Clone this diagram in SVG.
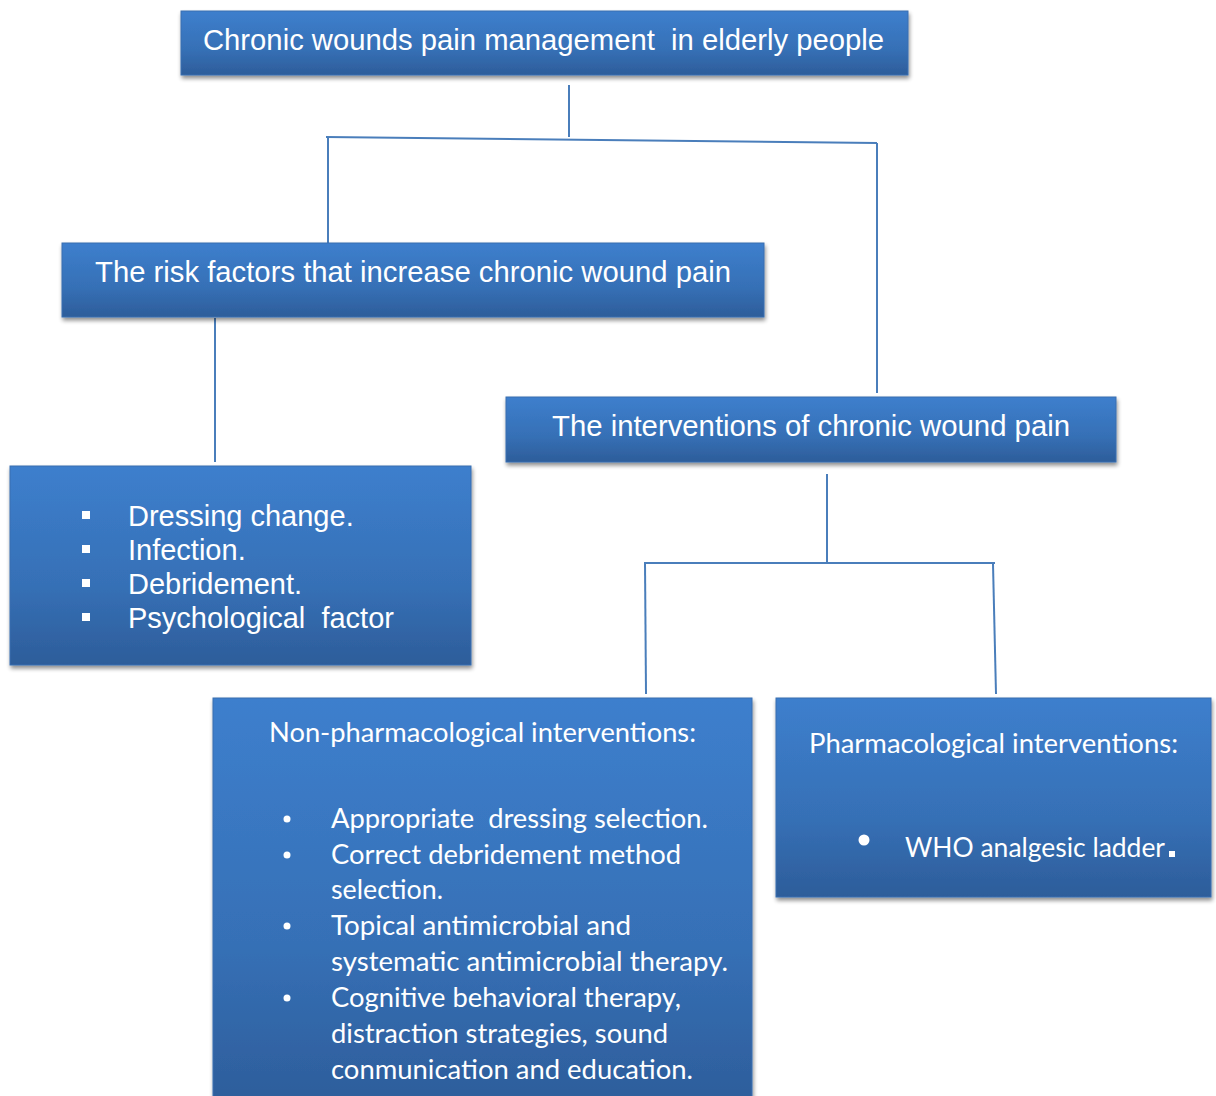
<svg xmlns="http://www.w3.org/2000/svg" width="1216" height="1096" viewBox="0 0 1216 1096">
<defs>
<linearGradient id="g" x1="0" y1="0" x2="0" y2="1">
<stop offset="0" stop-color="#3d7fcd"/>
<stop offset="0.6" stop-color="#3670b6"/>
<stop offset="1" stop-color="#2d5d9a"/>
</linearGradient>
<filter id="sh" x="-5%" y="-10%" width="110%" height="130%">
<feGaussianBlur in="SourceAlpha" stdDeviation="2"/>
<feOffset dx="1" dy="3" result="b"/>
<feComponentTransfer><feFuncA type="linear" slope="0.45"/></feComponentTransfer>
<feMerge><feMergeNode/><feMergeNode in="SourceGraphic"/></feMerge>
</filter>
</defs>
<style>
.box{fill:url(#g);stroke:#3a6fb0;stroke-width:1;filter:url(#sh)}
.ar{font-family:"Liberation Sans",Arial,sans-serif;fill:#fff}
.cal{font-family:Lato,"Open Sans",sans-serif;fill:#fff;font-size:26px}
.con{stroke:#4a7ebb;stroke-width:2;fill:none}
</style>
<rect width="1216" height="1096" fill="#fff"/>
<g id="connectors">
<line class="con" x1="569" y1="85" x2="569" y2="137"/>
<line class="con" x1="326" y1="137" x2="877" y2="143"/>
<line class="con" x1="328" y1="138" x2="328" y2="243"/>
<line class="con" x1="877" y1="143" x2="877" y2="393"/>
<line class="con" x1="215" y1="318" x2="215" y2="462"/>
<line class="con" x1="827" y1="474" x2="827" y2="563"/>
<line class="con" x1="644" y1="563" x2="995" y2="563"/>
<line class="con" x1="645" y1="563" x2="646" y2="694"/>
<line class="con" x1="993" y1="564" x2="996" y2="694"/>
</g>
<g id="root">
<rect class="box" x="181" y="11" width="727" height="64"/>
<text class="ar" x="203" y="50" font-size="29" textLength="681" lengthAdjust="spacingAndGlyphs" xml:space="preserve">Chronic wounds pain management  in elderly people</text>
</g>
<g id="risk">
<rect class="box" x="62" y="243" width="702" height="74"/>
<text class="ar" x="95" y="282" font-size="29" textLength="636" lengthAdjust="spacingAndGlyphs">The risk factors that increase chronic wound pain</text>
</g>
<g id="interventions">
<rect class="box" x="506" y="397" width="610" height="65"/>
<text class="ar" x="552" y="436" font-size="29" textLength="518" lengthAdjust="spacingAndGlyphs">The interventions of chronic wound pain</text>
</g>
<g id="risklist">
<rect class="box" x="10" y="466" width="461" height="199"/>
<g fill="#fff">
<rect x="82" y="511" width="8" height="8"/>
<rect x="82" y="545" width="8" height="8"/>
<rect x="82" y="579" width="8" height="8"/>
<rect x="82" y="613" width="8" height="8"/>
</g>
<text class="ar" font-size="29">
<tspan x="128" y="526">Dressing change.</tspan>
<tspan x="128" y="560">Infection.</tspan>
<tspan x="128" y="594">Debridement.</tspan>
<tspan x="128" y="628" xml:space="preserve">Psychological  factor</tspan>
</text>
</g>
<g id="nonpharm">
<rect class="box" x="213" y="698" width="539" height="410"/>
<text class="cal" x="269" y="742" textLength="427" lengthAdjust="spacingAndGlyphs">Non-pharmacological interventions:</text>
<g fill="#fff">
<circle cx="287" cy="819" r="3.5"/>
<circle cx="287" cy="855" r="3.5"/>
<circle cx="287" cy="926" r="3.5"/>
<circle cx="287" cy="998" r="3.5"/>
</g>
<text class="cal" x="331" y="828" textLength="377" lengthAdjust="spacingAndGlyphs" xml:space="preserve">Appropriate  dressing selection.</text>
<text class="cal" x="331" y="864" textLength="350" lengthAdjust="spacingAndGlyphs">Correct debridement method</text>
<text class="cal" x="331" y="899" textLength="112" lengthAdjust="spacingAndGlyphs">selection.</text>
<text class="cal" x="331" y="935" textLength="300" lengthAdjust="spacingAndGlyphs">Topical antimicrobial and</text>
<text class="cal" x="331" y="971" textLength="397" lengthAdjust="spacingAndGlyphs">systematic antimicrobial therapy.</text>
<text class="cal" x="331" y="1007" textLength="350" lengthAdjust="spacingAndGlyphs">Cognitive behavioral therapy,</text>
<text class="cal" x="331" y="1043" textLength="337" lengthAdjust="spacingAndGlyphs">distraction strategies, sound</text>
<text class="cal" x="331" y="1079" textLength="362" lengthAdjust="spacingAndGlyphs">conmunication and education.</text>
</g>
<g id="pharm">
<rect class="box" x="776" y="698" width="435" height="199"/>
<text class="cal" x="809" y="753" textLength="369" lengthAdjust="spacingAndGlyphs">Pharmacological interventions:</text>
<circle cx="864" cy="840" r="5.5" fill="#fff"/>
<text class="cal" x="905" y="857" textLength="260" lengthAdjust="spacingAndGlyphs">WHO analgesic ladder</text>
<rect x="1169" y="851" width="6" height="6" fill="#fff"/>
</g>
</svg>
